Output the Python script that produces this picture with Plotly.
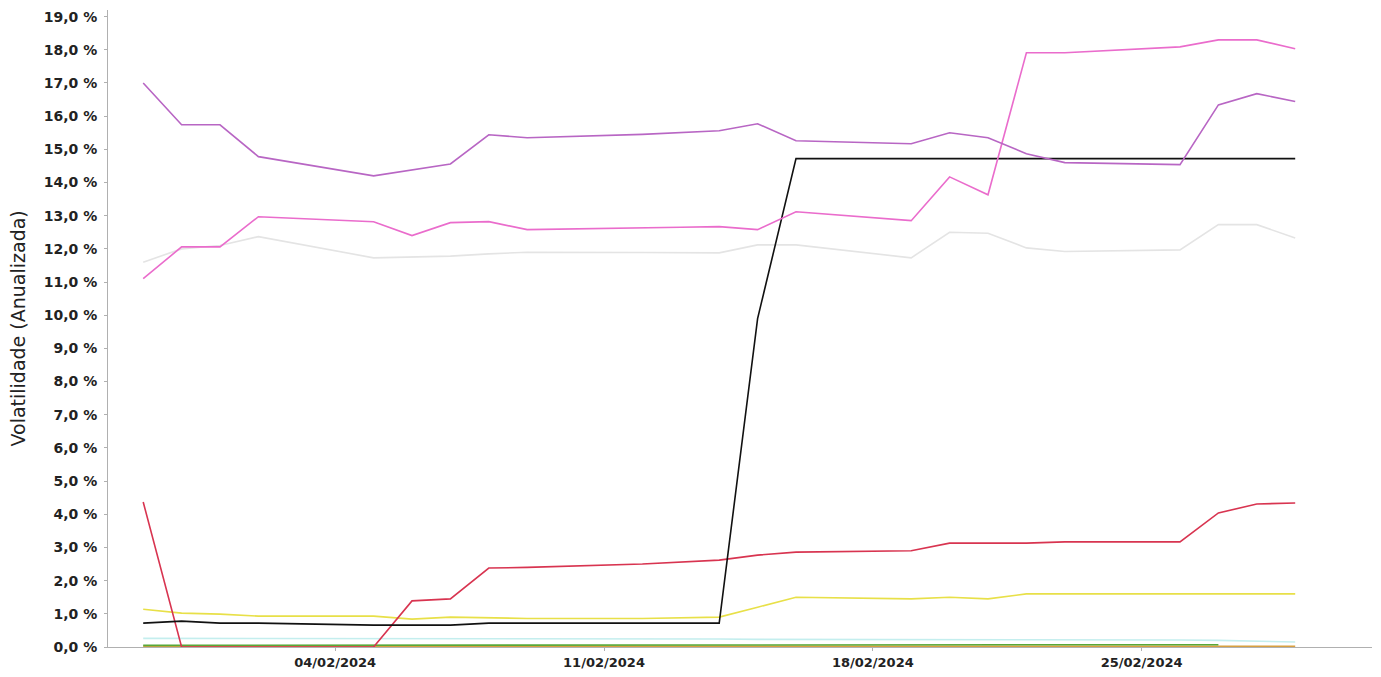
import plotly.graph_objects as go

# business days (Brazil) of the period
dates = [
    "2024-01-30", "2024-01-31", "2024-02-01", "2024-02-02",
    "2024-02-05", "2024-02-06", "2024-02-07", "2024-02-08", "2024-02-09",
    "2024-02-12", "2024-02-13", "2024-02-14", "2024-02-15", "2024-02-16",
    "2024-02-19", "2024-02-20", "2024-02-21", "2024-02-22", "2024-02-23",
    "2024-02-26", "2024-02-27", "2024-02-28", "2024-02-29",
]

# annualised volatility, in %
vol_roxo = [17.0, 15.74, 15.74, 14.78, 14.2, 14.38, 14.56, 15.44, 15.35,
            15.45, 15.5, 15.56, 15.77, 15.26, 15.17, 15.5, 15.35, 14.87, 14.6,
            14.54, 16.34, 16.68, 16.44]
vol_rosa = [11.1, 12.06, 12.06, 12.97, 12.82, 12.4, 12.79, 12.82, 12.58,
            12.62, 12.65, 12.67, 12.58, 13.12, 12.85, 14.17, 13.63, 17.91, 17.91,
            18.09, 18.3, 18.3, 18.03]
vol_cinza = [11.6, 12.0, 12.1, 12.37, 11.73, 11.75, 11.78, 11.85, 11.9,
             11.89, 11.88, 11.88, 12.12, 12.12, 11.73, 12.5, 12.47, 12.03, 11.92,
             11.97, 12.73, 12.73, 12.33]
vol_preto = [0.72, 0.78, 0.72, 0.72, 0.66, 0.66, 0.66, 0.72, 0.72,
             0.72, 0.72, 0.72, 9.9, 14.72, 14.72, 14.72, 14.72, 14.72, 14.72,
             14.72, 14.72, 14.72, 14.72]
vol_vermelho = [4.37, 0.0, 0.0, 0.0, 0.0, 1.39, 1.45, 2.38, 2.4,
                2.5, 2.56, 2.62, 2.77, 2.86, 2.9, 3.13, 3.13, 3.13, 3.17,
                3.17, 4.04, 4.31, 4.34]
vol_amarelo = [1.14, 1.02, 0.99, 0.93, 0.93, 0.84, 0.9, 0.88, 0.86,
               0.86, 0.88, 0.9, 1.2, 1.5, 1.45, 1.5, 1.45, 1.6, 1.6,
               1.6, 1.6, 1.6, 1.6]
vol_ciano = [0.26, 0.26, 0.25, 0.25, 0.24, 0.24, 0.24, 0.24, 0.24,
             0.24, 0.24, 0.24, 0.23, 0.23, 0.22, 0.22, 0.22, 0.22, 0.21,
             0.21, 0.2, 0.17, 0.15]
vol_verde = [0.05, 0.05, 0.05, 0.05, 0.05, 0.06, 0.07, 0.07, 0.07,
             0.07, 0.07, 0.07, 0.07, 0.07, 0.07, 0.07, 0.07, 0.07, 0.07,
             0.07, 0.07, None, None]
vol_laranja = [0.02, 0.02, 0.02, 0.02, 0.02, 0.02, 0.02, 0.02, 0.02,
               0.02, 0.02, 0.02, 0.02, 0.02, 0.02, 0.02, 0.02, 0.02, 0.02,
               0.02, 0.02, 0.02, 0.02]

y_ticks = list(range(0, 20))
y_labels = [f"{v},0 %" for v in y_ticks]
x_ticks = ["2024-02-04", "2024-02-11", "2024-02-18", "2024-02-25"]

series = [
    ("Cinza", vol_cinza, "#e4e4e4"),
    ("Ciano", vol_ciano, "#c4eeee"),
    ("Laranja", vol_laranja, "#d8a040"),
    ("Verde", vol_verde, "#58a838"),
    ("Amarelo", vol_amarelo, "#e8e048"),
    ("Vermelho", vol_vermelho, "#d83450"),
    ("Preto", vol_preto, "#111111"),
    ("Rosa", vol_rosa, "#ea6ccc"),
    ("Roxo", vol_roxo, "#b866c4"),
]

fig = go.Figure()
for name, vals, color in series:
    fig.add_trace(go.Scatter(x=dates, y=vals, mode="lines", name=name,
                             line=dict(color=color, width=1.6)))

# page body adds 8px, so the figure is a bit smaller than the window
fig.update_layout(
    width=1373, height=669,
    margin=dict(l=100, r=9, t=2, b=30, autoexpand=False),
    paper_bgcolor="white", plot_bgcolor="white",
    showlegend=False,
    font=dict(family="DejaVu Sans", color="#222222"),
)
fig.add_annotation(
    text="Volatilidade (Anualizada)", textangle=-90,
    xref="paper", yref="paper", x=0, y=0.5, xanchor="center", yanchor="middle",
    xshift=-91, showarrow=False,
    font=dict(size=19, family="DejaVu Sans", color="#222222"),
)
fig.update_xaxes(
    type="date",
    range=["2024-01-29 02:00", "2024-03-02 00:00"],
    tickvals=x_ticks, tickformat="%d/%m/%Y",
    tickfont=dict(size=13, family="DejaVu Sans", weight="bold"),
    showgrid=False, zeroline=False,
    showline=True, linecolor="#b0b0b0", linewidth=1,
    ticks="outside", ticklen=3, tickcolor="#b0b0b0",
)
fig.update_yaxes(
    range=[0, 19.2],
    tickvals=y_ticks, ticktext=y_labels,
    tickfont=dict(size=14, family="DejaVu Sans", weight="bold"),
    showgrid=False, zeroline=False,
    showline=True, linecolor="#b0b0b0", linewidth=1,
    ticks="outside", ticklen=3, tickcolor="#b0b0b0",
    ticklabelstandoff=4,
)

fig.write_html("out.html")
